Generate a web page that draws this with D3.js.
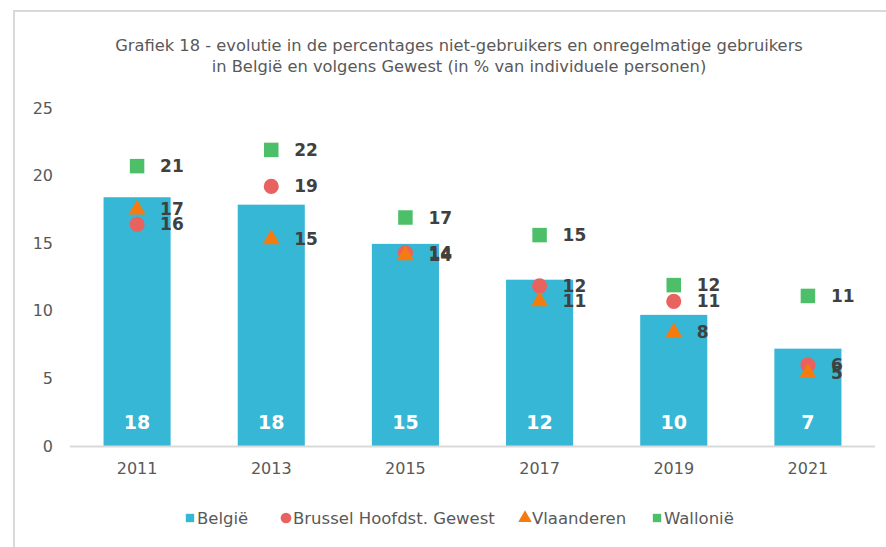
<!DOCTYPE html>
<html><head><meta charset="utf-8">
<script src="https://cdn.jsdelivr.net/npm/d3@7"></script>
<style>body{margin:0;background:#fff}svg{display:block}</style>
</head><body>
<svg id="c" width="886" height="547"></svg>
<script>
const years = ["2011","2013","2015","2017","2019","2021"];
const belgie = [18.4, 17.85, 14.95, 12.3, 9.7, 7.2];
const belgieLabels = ["18","18","15","12","10","7"];
const brussel = [16.4, 19.2, 14.3, 11.85, 10.7, 6.0];
const brusselLabels = ["16","19","14","12","11","6"];
const vlaanderen = [17.5, 15.3, 14.1, 10.7, 8.4, 5.4];
const vlaanderenLabels = ["17","15","14","11","8","5"];
const wallonie = [20.7, 21.9, 16.9, 15.6, 11.9, 11.1];
const wallonieLabels = ["21","22","17","15","12","11"];
const yTicks = [0,5,10,15,20,25];
const titleLines = ["Grafiek 18 - evolutie in de percentages niet-gebruikers en onregelmatige gebruikers",
                    "in België en volgens Gewest (in % van individuele personen)"];
const legendNames = ["België","Brussel Hoofdst. Gewest","Vlaanderen","Wallonië"];

const colBar = "#36B7D5", colBr = "#E8635F", colVl = "#F47B10", colWa = "#4DBF68";
const txt = "#595959", lbl = "#404040";
const font = "Tahoma, 'DejaVu Sans', Verdana, sans-serif";

const svg = d3.select("#c");
// frame
svg.append("path").attr("d","M14,547 V11 H886").attr("fill","none").attr("stroke","#d9d9d9").attr("stroke-width",2);

// title
svg.append("g").selectAll("text").data(titleLines).join("text")
  .attr("x",459).attr("y",(d,i)=>51+i*21).attr("text-anchor","middle")
  .attr("font-family",font).attr("font-size",16.3).attr("fill",txt).text(d=>d);

const x = d3.scaleBand().domain(years).range([70,875]).paddingInner(0.5).paddingOuter(0.25);
const y = d3.scaleLinear().domain([0,25]).range([446,108]);

// y axis labels
const ya = svg.append("g").attr("transform","translate(53,0)")
  .call(d3.axisLeft(y).tickValues(yTicks).tickSize(0).tickPadding(0));
ya.select(".domain").remove();
ya.selectAll("text").attr("font-family",font).attr("font-size",16).attr("fill",txt);

// bars
svg.append("g").selectAll("rect").data(years).join("rect")
  .attr("x",d=>x(d)).attr("width",x.bandwidth())
  .attr("y",(d,i)=>y(belgie[i])).attr("height",(d,i)=>y(0)-y(belgie[i]))
  .attr("fill",colBar);

// baseline
svg.append("line").attr("x1",70).attr("x2",875).attr("y1",y(0)+0.5).attr("y2",y(0)+0.5)
  .attr("stroke","#d9d9d9").attr("stroke-width",2);

// x axis labels
const xa = svg.append("g").attr("transform",`translate(0,${y(0)+1})`)
  .call(d3.axisBottom(x).tickSize(0).tickPadding(16));
xa.select(".domain").remove();
xa.selectAll("text").attr("font-family",font).attr("font-size",16).attr("fill",txt);

// bar labels
svg.append("g").selectAll("text").data(years).join("text")
  .attr("x",d=>x(d)+x.bandwidth()/2).attr("y",429).attr("text-anchor","middle")
  .attr("font-family",font).attr("font-weight","bold").attr("font-size",19).attr("fill","#fff")
  .text((d,i)=>belgieLabels[i]);

const cx = d => x(d)+x.bandwidth()/2;
const sym = (type,size) => d3.symbol().type(type).size(size)();

function series(vals, labels, type, size, color){
  const g = svg.append("g");
  g.selectAll("path").data(years).join("path")
    .attr("transform",(d,i)=>`translate(${cx(d)},${y(vals[i])})`)
    .attr("d",sym(type,size)).attr("fill",color);
  g.selectAll("text").data(years).join("text")
    .attr("x",d=>cx(d)+23).attr("y",(d,i)=>y(vals[i])+6)
    .attr("font-family",font).attr("font-weight","bold").attr("font-size",17).attr("fill",lbl)
    .text((d,i)=>labels[i]);
}
series(wallonie, wallonieLabels, d3.symbolSquare, 210, colWa);
series(brussel, brusselLabels, d3.symbolCircle, 180, colBr);
series(vlaanderen, vlaanderenLabels, d3.symbolTriangle, 130, colVl);

// legend
const legX = [186, 282, 521, 653];
const legT = [d3.symbolSquare, d3.symbolCircle, d3.symbolTriangle, d3.symbolSquare];
const legS = [70, 90, 80, 70];
const legC = [colBar, colBr, colVl, colWa];
const lg = svg.append("g");
legendNames.forEach((n,i)=>{
  lg.append("path").attr("transform",`translate(${legX[i]+4},518)`).attr("d",sym(legT[i],legS[i])).attr("fill",legC[i]);
  lg.append("text").attr("x",legX[i]+11).attr("y",524).attr("font-family",font).attr("font-size",16.5).attr("fill",txt).text(n);
});
</script>
</body></html>
